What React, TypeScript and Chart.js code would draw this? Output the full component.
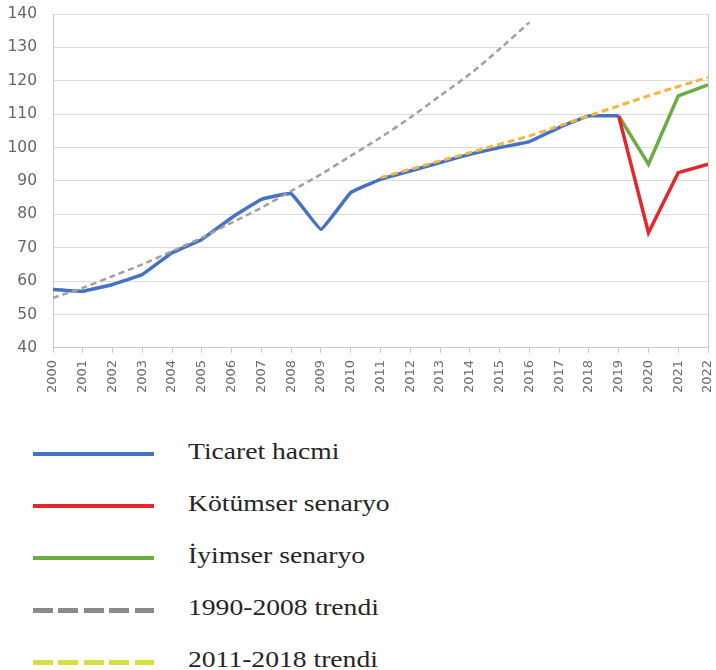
import React, { useEffect, useRef } from "react";
import { Chart, registerables } from "chart.js";

Chart.register(...registerables);

const years = [
  "2000", "2001", "2002", "2003", "2004", "2005", "2006", "2007", "2008", "2009", "2010",
  "2011", "2012", "2013", "2014", "2015", "2016", "2017", "2018", "2019", "2020", "2021", "2022",
];

const ticaretHacmi = [
  57.5, 57.0, 59.0, 62.0, 68.5, 72.5, 79.0, 84.5, 86.2, 75.5, 86.5,
  90.5, 93.0, 95.5, 98.0, 100.0, 101.8, 106.0, 109.5, 109.5, null, null, null,
];

const kotumserSenaryo = [
  null, null, null, null, null, null, null, null, null, null, null,
  null, null, null, null, null, null, null, null, 109.5, 74.5, 92.5, 95.0,
];

const iyimserSenaryo = [
  null, null, null, null, null, null, null, null, null, null, null,
  null, null, null, null, null, null, null, null, 109.5, 95.0, 115.5, 118.8,
];

const trend1990_2008 = [
  55.0, 58.0, 61.5, 65.0, 69.0, 73.0, 77.5, 82.0, 87.0, 92.0, 97.5,
  103.0, 109.0, 115.5, 122.0, 129.5, 137.5, null, null, null, null, null, null,
];

const trend2011_2018 = [
  null, null, null, null, null, null, null, null, null, null, null,
  91.0, 93.5, 96.0, 98.5, 101.0, 103.5, 106.5, 109.5, 112.5, 115.5, 118.3, 121.0,
];

const yMin = 40;
const yMax = 140;
const yStep = 10;

const legendItems = [
  { label: "Ticaret hacmi", color: "#4472C4", dashed: false },
  { label: "Kötümser senaryo", color: "#E5262C", dashed: false },
  { label: "İyimser senaryo", color: "#6AAD45", dashed: false },
  { label: "1990-2008 trendi", color: "#8A8A8A", dashed: true },
  { label: "2011-2018 trendi", color: "#D6DF3F", dashed: true },
];

const frameBorder = {
  id: "frameBorder",
  afterDatasetsDraw(chart: any) {
    const { ctx, chartArea } = chart;
    ctx.save();
    ctx.strokeStyle = "#c8c8c8";
    ctx.lineWidth = 1;
    ctx.beginPath();
    ctx.moveTo(chartArea.right + 0.5, chartArea.top);
    ctx.lineTo(chartArea.right + 0.5, chartArea.bottom);
    ctx.stroke();
    ctx.restore();
  },
};

const zeroPadding = (scale: any) => {
  scale.paddingLeft = 0;
  scale.paddingRight = 0;
  scale.paddingTop = 0;
  scale.paddingBottom = 0;
};

export default function App() {
  const canvasRef = useRef<HTMLCanvasElement | null>(null);

  useEffect(() => {
    document.body.style.margin = "0";
    if (!canvasRef.current) return;
    const chart = new Chart(canvasRef.current, {
      type: "line",
      data: {
        labels: years,
        datasets: [
          {
            label: "2011-2018 trendi",
            data: trend2011_2018,
            borderColor: "#F2B740",
            borderWidth: 3,
            borderDash: [7, 4],
            pointRadius: 0,
            tension: 0,
          },
          {
            label: "1990-2008 trendi",
            data: trend1990_2008,
            borderColor: "#A0A0A0",
            borderWidth: 2.5,
            borderDash: [6, 4],
            pointRadius: 0,
            tension: 0.3,
          },
          {
            label: "Kötümser senaryo",
            data: kotumserSenaryo,
            borderColor: "#E5262C",
            borderWidth: 3.5,
            pointRadius: 0,
            tension: 0,
          },
          {
            label: "İyimser senaryo",
            data: iyimserSenaryo,
            borderColor: "#6AAD45",
            borderWidth: 3.5,
            pointRadius: 0,
            tension: 0,
          },
          {
            label: "Ticaret hacmi",
            data: ticaretHacmi,
            borderColor: "#4472C4",
            borderWidth: 3.5,
            pointRadius: 0,
            tension: 0.08,
          },
        ],
      },
      options: {
        animation: false,
        responsive: false,
        spanGaps: false,
        layout: { padding: { left: 6, right: 8, top: 14, bottom: 2 } },
        plugins: { legend: { display: false }, tooltip: { enabled: false } },
        scales: {
          x: {
            offset: false,
            afterFit: zeroPadding,
            grid: {
              drawOnChartArea: false,
              drawTicks: true,
              tickLength: 5,
              color: "#c8c8c8",
            },
            border: { display: true, color: "#c8c8c8" },
            ticks: {
              autoSkip: false,
              maxRotation: 90,
              minRotation: 90,
              padding: 7,
              color: "#6e6e6e",
              font: { family: "DejaVu Sans", size: 13 },
            },
          },
          y: {
            min: yMin,
            max: yMax,
            afterFit: (scale: any) => {
              zeroPadding(scale);
              scale.width = 47;
            },
            grid: { drawTicks: false, color: "#dcdcdc" },
            border: { display: true, color: "#c8c8c8" },
            ticks: {
              stepSize: yStep,
              padding: 16,
              color: "#666666",
              font: { family: "DejaVu Sans", size: 15.5 },
            },
          },
        },
      },
      plugins: [frameBorder],
    });
    return () => chart.destroy();
  }, []);

  return (
    <div style={{ position: "relative", width: 716, height: 670, background: "#fff", overflow: "hidden" }}>
      <canvas ref={canvasRef} width={716} height={402} style={{ position: "absolute", left: 0, top: 0 }} />
      {legendItems.map((item, i) => {
        const lineY = 454 + i * 52;
        const lineStyle: React.CSSProperties = item.dashed
          ? {
              backgroundImage: `repeating-linear-gradient(to right, ${item.color} 0px, ${item.color} 20px, transparent 20px, transparent 25.5px)`,
            }
          : { background: item.color };
        return (
          <React.Fragment key={item.label}>
            <div
              style={{
                position: "absolute",
                left: 33,
                top: lineY - 2,
                width: 121,
                height: item.dashed ? 5 : 4,
                ...lineStyle,
              }}
            />
            <div
              style={{
                position: "absolute",
                left: 188,
                top: lineY + 5 - 20,
                fontFamily: "'Liberation Serif', 'Times New Roman', serif",
                fontSize: 24,
                lineHeight: "24px",
                color: "#262626",
                whiteSpace: "nowrap",
                transform: "scaleX(1.15)",
                transformOrigin: "left center",
              }}
            >
              {item.label}
            </div>
          </React.Fragment>
        );
      })}
    </div>
  );
}
